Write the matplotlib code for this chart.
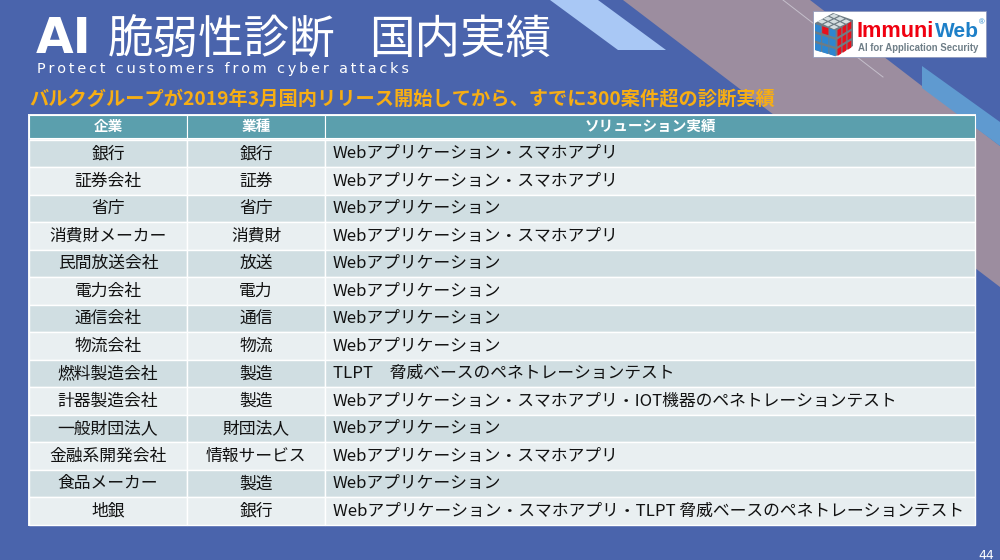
import matplotlib
matplotlib.use("Agg")
import matplotlib.pyplot as plt
from matplotlib.patches import Polygon, Rectangle

plt.rcParams['font.family'] = ['Noto Sans CJK JP', 'DejaVu Sans']

# table contents
headers = ["企業", "業種", "ソリューション実績"]
companies = ["銀行", "証券会社", "省庁", "消費財メーカー", "民間放送会社", "電力会社", "通信会社",
             "物流会社", "燃料製造会社", "計器製造会社", "一般財団法人", "金融系開発会社", "食品メーカー", "地銀"]
sectors = ["銀行", "証券", "省庁", "消費財", "放送", "電力", "通信",
           "物流", "製造", "製造", "財団法人", "情報サービス", "製造", "銀行"]
web_app = "Webアプリケーション"
web_mobile = "Webアプリケーション・スマホアプリ"
solutions = [web_mobile, web_mobile, web_app, web_mobile, web_app, web_app, web_app, web_app,
             "TLPT　脅威ベースのペネトレーションテスト",
             "Webアプリケーション・スマホアプリ・IOT機器のペネトレーションテスト",
             web_app, web_mobile, web_app,
             "Webアプリケーション・スマホアプリ・TLPT 脅威ベースのペネトレーションテスト"]

title_ai = "AI"
title_left = "脆弱性診断"
title_right = "国内実績"
subtitle = "Protect customers from cyber attacks"
headline = "バルクグループが2019年3月国内リリース開始してから、すでに300案件超の診断実績"
page_no = "44"

col_edges = [29, 187, 325, 975]
header_top = 115
row_top = 139.5
row_h = 27.5

BLUE = "#4A64AC"
MAUVE = "#9C8D9F"
RED = "#E8101C"
CUBE_BLUE = "#2E86D0"
CUBE_GREY = "#6E7C84"

fig = plt.figure(figsize=(10, 5.6), dpi=100, facecolor=BLUE)
ax = fig.add_axes([0, 0, 1, 1])
ax.set_xlim(0, 1000)
ax.set_ylim(560, 0)
ax.axis("off")

# background shapes
ax.add_patch(Polygon([(623, 0), (810, 0), (1000, 146), (1000, 287)], fc=MAUVE, ec="none"))
ax.add_patch(Polygon([(550, 0), (598, 0), (666, 50), (618, 50)], fc="#A9C8F5", ec="none"))
ax.add_patch(Polygon([(922, 66), (1000, 122), (1000, 146), (922, 88)], fc="#5F9AD0", ec="none"))
ax.plot([783, 883], [0, 77], color="#C5BFCB", lw=0.7)

# titles
ax.text(36, 53, title_ai, color="white", fontsize=35, fontweight="bold", va="baseline", family="DejaVu Sans")
ax.text(108, 53, title_left, color="white", fontsize=32.8, va="baseline")
ax.text(369, 53, title_right, color="white", fontsize=32.8, va="baseline")
# letter spaced with thin spaces
ax.text(37, 73, "\u2009".join(subtitle), color="white", fontsize=10.4, va="baseline", family="DejaVu Sans")
ax.text(29, 105, headline, color="#F7AE14", fontsize=13.85, fontweight="bold", va="baseline")

# logo
ax.add_patch(Rectangle((813, 11), 173, 46, fc="white", ec="#8A94B8", lw=0.5, zorder=3))
ax.add_patch(Polygon([(815, 23), (833, 13), (853, 20), (853, 46), (836, 56), (815, 50)], fc=CUBE_GREY, ec="none", zorder=4))
for r in range(3):
    for c in range(3):
        # left face drops to the right, right face rises to the right
        x0 = 815 + c * 7.2
        y0 = 24 + r * 9.5 + c * 2.2
        fc = RED if (c == 1 and r == 0) else CUBE_BLUE
        ax.add_patch(Polygon([(x0, y0), (x0 + 6.2, y0 + 2), (x0 + 6.2, y0 + 9), (x0, y0 + 7)], fc=fc, ec="none", zorder=4))
        x1 = 837.5 + c * 5
        y1 = 30 + r * 9.5 - c * 3
        ax.add_patch(Polygon([(x1, y1), (x1 + 3.8, y1 - 2.5), (x1 + 3.8, y1 + 4.5), (x1, y1 + 7)], fc=RED, ec="none", zorder=4))
# top face squares
for a in range(3):
    for b in range(3):
        cx = 835 + (a - b) * 6 - 1
        cy = 21.5 + (a + b - 2) * 2.8
        ax.add_patch(Polygon([(cx - 4.5, cy), (cx, cy - 2.2), (cx + 4.5, cy), (cx, cy + 2.2)], fc="#D5DEE0", ec="none", zorder=4))
ax.text(857, 37, "Immuni", color="#F00010", fontsize=15.6, fontweight="bold", va="baseline", zorder=5, family="Liberation Sans")
ax.text(935, 37, "Web", color="#1E80C8", fontsize=15, fontweight="bold", va="baseline", zorder=5, family="Liberation Sans")
ax.text(979, 24, "®", color="#1E80C8", fontsize=5.5, va="baseline", zorder=5, family="Liberation Sans")
ax.text(858, 51, "AI for Application Security", color="#6F7F88", fontsize=6.95, fontweight="bold", va="baseline", zorder=5, family="Liberation Sans")

# table frame, header and rows
n = len(companies)
left, right = col_edges[0], col_edges[-1]
ax.add_patch(Rectangle((left - 1, header_top - 1), right - left + 2, row_top + n * row_h - header_top + 2,
                       fc="#F2F5F7", ec="none", zorder=5))
for j in range(3):
    x0, x1 = col_edges[j], col_edges[j + 1]
    ax.add_patch(Rectangle((x0, header_top), x1 - x0, 23, fc="#5B9FAD", ec="white", lw=0.8, zorder=6))
    for i in range(n):
        fc = "#D0DEE2" if i % 2 == 0 else "#E9EFF1"
        ax.add_patch(Rectangle((x0, row_top + i * row_h), x1 - x0, row_h, fc=fc, ec="white", lw=1, zorder=6))

for j in range(3):
    ax.text((col_edges[j] + col_edges[j + 1]) / 2, 126, headers[j], color="white", fontsize=10.5, fontweight="bold",
            ha="center", va="center", zorder=7)

for i in range(n):
    y = row_top + (i + 0.5) * row_h + 0.5
    ax.text((col_edges[0] + col_edges[1]) / 2, y, companies[i], color="#111111", fontsize=12.1, ha="center", va="center", zorder=7)
    ax.text((col_edges[1] + col_edges[2]) / 2, y, sectors[i], color="#111111", fontsize=12.1, ha="center", va="center", zorder=7)
    ax.text(col_edges[2] + 8, y, solutions[i], color="#111111", fontsize=12.1, ha="left", va="center", zorder=7)

ax.text(994, 559, page_no, color="white", fontsize=9, ha="right", va="baseline", family="DejaVu Sans")

fig.savefig("out.png", dpi=100, facecolor=fig.get_facecolor())
